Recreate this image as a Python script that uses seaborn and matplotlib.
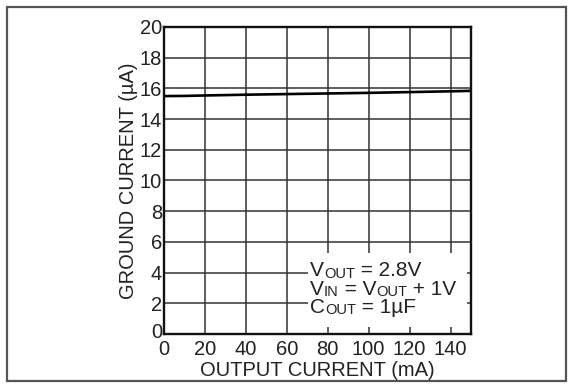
import matplotlib
matplotlib.use("Agg")
import matplotlib.pyplot as plt
import matplotlib.transforms as mtrans
import seaborn as sns
import pandas as pd
from matplotlib.patches import Rectangle

# Data
output_current_ma = [0, 10, 20, 40, 60, 80, 100, 120, 140, 150]
ground_current_ua = [15.5, 15.51, 15.54, 15.59, 15.63, 15.67, 15.71, 15.76, 15.81, 15.84]
x_ticks = [0, 20, 40, 60, 80, 100, 120, 140]
y_ticks = [0, 2, 4, 6, 8, 10, 12, 14, 16, 18, 20]
annotation_lines = [
    [("V", "main"), ("OUT", "sub"), (" = 2.8V", "main")],
    [("V", "main"), ("IN", "sub"), (" = V", "main"), ("OUT", "sub"), (" + 1V", "main")],
    [("C", "main"), ("OUT", "sub"), (" = 1µF", "main")],
]

sns.set_theme(style="white")
plt.rcParams['font.family'] = ['Liberation Sans', 'DejaVu Sans']

W, H = 573, 387
TXT = "#222222"
fig = plt.figure(figsize=(W / 100, H / 100), dpi=100)
ax = fig.add_axes([164 / W, 53 / H, 307 / W, 307 / H])

df = pd.DataFrame({"x": output_current_ma, "y": ground_current_ua})
sns.lineplot(data=df, x="x", y="y", ax=ax, color="black", linewidth=1.9, zorder=3)

ax.set_xlim(0, 150)
ax.set_ylim(0, 20)
ax.set_xticks(x_ticks)
ax.set_yticks(y_ticks)
ax.grid(True, color="#333333", linewidth=1.1)
ax.set_axisbelow(True)
for s in ax.spines.values():
    s.set_color("#111111")
    s.set_linewidth(1.7)
ax.tick_params(axis="both", length=0, labelsize=14.5, colors=TXT)
ax.tick_params(axis="x", pad=4)
ax.tick_params(axis="y", pad=1.5)
ax.set_xlabel("OUTPUT CURRENT (mA)", fontsize=14.5, color=TXT, labelpad=2)
ax.set_ylabel("GROUND CURRENT (µA)", fontsize=14.5, color=TXT, labelpad=1)

# shift the y "0" label up a little, as in the reference
ylab0 = ax.get_yticklabels()[0]
ylab0.set_transform(ylab0.get_transform() +
                    mtrans.ScaledTranslation(0, 3 / 100, fig.dpi_scale_trans))

# white box behind the conditions text
ax.add_patch(Rectangle((0.469, 0.023), 0.518, 0.242, transform=ax.transAxes,
                       facecolor="white", edgecolor="none", zorder=2.5))

fig.canvas.draw()
renderer = fig.canvas.get_renderer()
sizes = {"main": 15, "sub": 10.5}
drop = {"main": 0, "sub": 1.5}
baselines = [276, 295, 313]
x_start = 310
for line, base in zip(annotation_lines, baselines):
    x = x_start
    for s, kind in line:
        t = fig.text(x / W, (H - (base + drop[kind])) / H, s, fontsize=sizes[kind],
                     color=TXT, ha="left", va="baseline", zorder=5)
        bb = t.get_window_extent(renderer)
        x = bb.x1

fig.patches.append(Rectangle((7 / W, 6 / H), 559 / W, 374 / H, transform=fig.transFigure,
                             fill=False, edgecolor="#555555", linewidth=1.6))

fig.savefig("out.png", dpi=100)
